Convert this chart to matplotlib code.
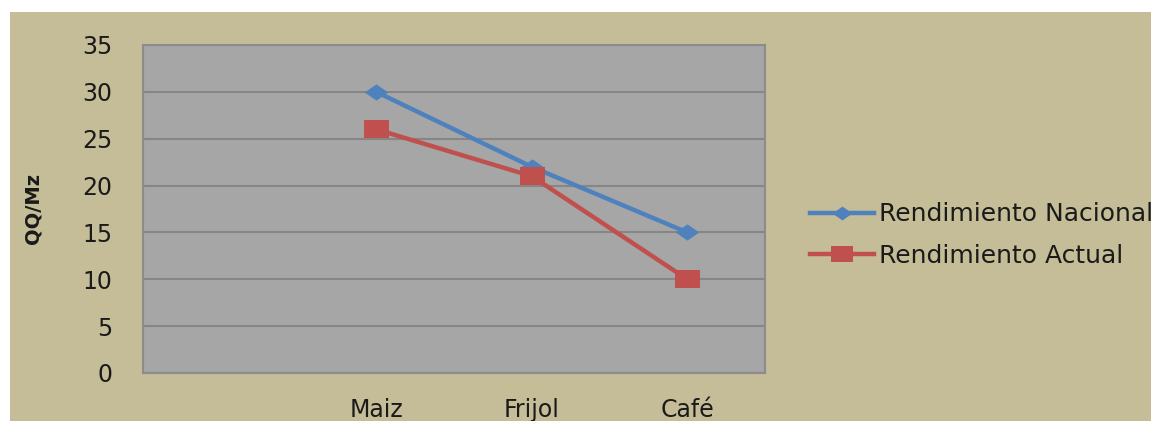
import numpy as np
import matplotlib
matplotlib.use("Agg")
import matplotlib.pyplot as plt
from matplotlib.patches import Rectangle

# datos (primera categoria vacia)
categorias = ["", "Maiz", "Frijol", "Café"]
rend_nacional = [np.nan, 30, 22, 15]
rend_actual = [np.nan, 26, 21, 10]
y_ticks = [0, 5, 10, 15, 20, 25, 30, 35]

color_fondo = "#C4BD97"
color_area = "#A6A6A6"
color_grid = "#868686"
azul = "#4F81BD"
rojo = "#C0504D"

# marcadores algo aplanados, como en la imagen original
diamante = [(-1.45, 0), (0, 1), (1.45, 0), (0, -1), (-1.45, 0)]
cuadrado = [(-1.4, -1), (1.4, -1), (1.4, 1), (-1.4, 1), (-1.4, -1)]

fig = plt.figure(figsize=(11.51, 4.21), dpi=100)
fig.patch.set_facecolor("white")
fig.patches.append(Rectangle((10 / 1151, 0), 1, 1 - 12 / 421, transform=fig.transFigure,
                             facecolor=color_fondo, edgecolor="none", zorder=-5))

ax = fig.add_axes([143 / 1151, 1 - 373 / 421, (765 - 143) / 1151, (373 - 45) / 421])
ax.set_facecolor(color_area)

x = np.arange(len(categorias))
ax.plot(x, rend_nacional, color=azul, lw=3.2, marker=diamante, markersize=17,
        markeredgewidth=0, label="Rendimiento Nacional", zorder=3)
ax.plot(x, rend_actual, color=rojo, lw=3.2, marker=cuadrado, markersize=18,
        markeredgewidth=0, label="Rendimiento Actual", zorder=4)

ax.set_xlim(-0.5, len(categorias) - 0.5)
ax.set_ylim(0, 35)
ax.set_xticks(x)
ax.set_xticklabels(categorias, fontsize=17, color="#1a1a1a")
ax.set_yticks(y_ticks)
ax.set_yticklabels([str(v) for v in y_ticks], fontsize=17, color="#1a1a1a")
ax.tick_params(axis="both", length=0)
ax.tick_params(axis="x", pad=18)
ax.tick_params(axis="y", pad=22)

ax.yaxis.grid(True, color=color_grid, lw=1.5)
ax.set_axisbelow(True)
for s in ax.spines.values():
    s.set_color("#8c8c8c")
    s.set_linewidth(1.5)

ax.set_ylabel("QQ/Mz", fontsize=14, fontweight="bold", color="#1a1a1a")
ax.yaxis.set_label_coords(42 / 1151, 1 - 208 / 421, transform=fig.transFigure)

ax.legend(loc="center left", bbox_to_anchor=(810 / 1151, 1 - 235 / 421),
          bbox_transform=fig.transFigure, frameon=False, fontsize=18,
          handlelength=2.55, handletextpad=0.2, labelspacing=0.7,
          labelcolor="#1a1a1a", borderaxespad=0, borderpad=0, markerscale=0.85)

fig.savefig("out.png", dpi=100, facecolor=fig.get_facecolor())
